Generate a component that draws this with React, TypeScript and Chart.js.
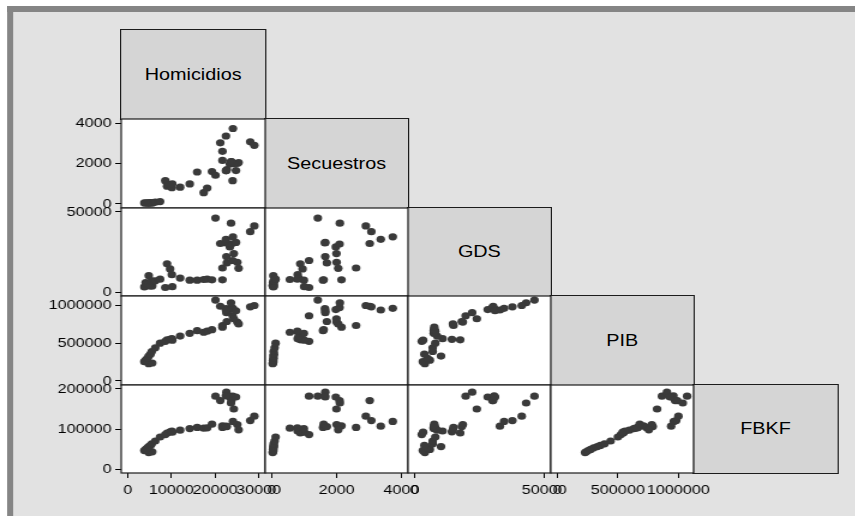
import React, { useEffect, useRef } from 'react';
import { Chart, registerables } from 'chart.js';

Chart.register(...registerables);

// ---------------- data ----------------
const variableNames = ['Homicidios', 'Secuestros', 'GDS', 'PIB', 'FBKF'];

const homicidios = [
  4800, 5600, 3800, 4100, 4500, 4800, 5200, 5500, 6300, 7400,
  8600, 9000, 9700, 10100, 10200, 12000, 14200, 15900, 17400, 18200,
  19300, 21700, 21700, 22700, 25100, 25400, 24030, 22600, 23400, 22500,
  24300, 23750, 21200, 22500, 24100, 23660, 28070, 29000, 20100, 24800,
];
const secuestros = [
  30, 40, 50, 40, 60, 50, 70, 60, 90, 120,
  1150, 880, 950, 800, 1000, 830, 990, 1580, 560, 790,
  1600, 2150, 2600, 1700, 2000, 2050, 1150, 1650, 1975, 1640,
  1995, 2090, 3020, 3360, 3730, 2100, 3070, 2900, 1420, 1650,
];
const gds = [
  4000, 3800, 3200, 5900, 5000, 10200, 3800, 7000, 7000, 8000,
  2800, 17600, 14400, 10800, 3300, 8700, 7400, 7400, 7800, 8000,
  7600, 7600, 15000, 18200, 18600, 14800, 19700, 22200, 28200, 30700,
  24000, 30000, 30300, 32900, 34500, 43000, 37700, 41300, 46200, 31000,
];
const pib = [
  229000, 238000, 255000, 275000, 300000, 330000, 355000, 390000, 440000, 500000,
  525000, 545000, 552000, 560000, 540000, 595000, 631000, 666000, 645000, 660000,
  680000, 712000, 735000, 788000, 780000, 756000, 864000, 905000, 946000, 959000,
  824000, 972000, 990000, 940000, 962000, 1036000, 982000, 1000000, 1072000, 930000,
];
const fbkf = [
  41000, 43000, 46000, 49000, 53000, 56000, 59000, 63000, 70000, 80000,
  86000, 90000, 93000, 95000, 92000, 97000, 101000, 104000, 102000, 103000,
  112000, 108000, 104000, 106000, 111000, 98000, 182000, 192000, 180000, 183000,
  150000, 171000, 171000, 107000, 119000, 165000, 121000, 132000, 182000, 180000,
];

const homicidiosTicks = [0, 10000, 20000, 30000];
const secuestrosTicks = [0, 2000, 4000];
const gdsTicks = [0, 50000];
const pibTicks = [0, 500000, 1000000];
const fbkfTicks = [0, 100000, 200000];

const axisMin = [-1500, -200, -2500, -53600, -10000];
const axisMax = [31500, 4200, 52500, 1125600, 210000];

const series = [homicidios, secuestros, gds, pib, fbkf];
const tickSets = [homicidiosTicks, secuestrosTicks, gdsTicks, pibTicks, fbkfTicks];

// ---------------- layout ----------------
const SX = 1.2; // horizontal stretch of the whole figure
const X0 = 121.7 / SX;
const CW = 143.12 / SX;
const Y0 = 30.3;
const RH = 88.6;
const E = 22;
const AXW = 80;
const AXH = 34;
const FONT = '"Liberation Sans", Arial, Helvetica, sans-serif';

const colL = (c: number) => Math.round(X0 + c * CW);
const rowT = (r: number) => Math.round(Y0 + r * RH);

const panelPlugin = {
  id: 'panelFrame',
  beforeDraw(chart: any) {
    const { ctx, chartArea: a } = chart;
    ctx.save();
    ctx.fillStyle = '#ffffff';
    ctx.fillRect(a.left, a.top, a.right - a.left, a.bottom - a.top);
    ctx.restore();
  },
  afterDraw(chart: any) {
    const { ctx, chartArea: a } = chart;
    ctx.save();
    ctx.strokeStyle = '#1c1c1c';
    ctx.lineWidth = 1.2;
    ctx.strokeRect(a.left, a.top, a.right - a.left, a.bottom - a.top);
    ctx.restore();
  },
};

function axisScale(idx: number, show: boolean, horizontal: boolean) {
  return {
    type: 'linear',
    display: show,
    position: horizontal ? 'bottom' : 'left',
    min: axisMin[idx],
    max: axisMax[idx],
    afterBuildTicks: (s: any) => {
      s.ticks = tickSets[idx].map((v) => ({ value: v }));
    },
    afterFit: (s: any) => {
      if (!show) {
        if (horizontal) s.height = 0;
        else s.width = 0;
        return;
      }
      if (horizontal) s.height = AXH;
      else s.width = AXW;
    },
    grid: {
      display: true,
      drawOnChartArea: false,
      drawTicks: true,
      tickLength: 5,
      color: '#000',
      lineWidth: 1,
    },
    border: { display: false },
    ticks: {
      autoSkip: false,
      maxRotation: 0,
      minRotation: 0,
      padding: horizontal ? 4 : 3,
      color: '#000',
      font: { family: FONT, size: 13.5 },
      callback: (v: any) => String(v),
    },
  };
}

function Panel({ r, c }: { r: number; c: number }) {
  const ref = useRef<HTMLCanvasElement>(null);
  const hasY = c === 0;
  const hasX = r === 4;
  const L = colL(c);
  const R = colL(c + 1);
  const T = rowT(r);
  const B = rowT(r + 1);
  const left = L - E - (hasY ? AXW : 0);
  const top = T - E;
  const width = R - L + 2 * E + (hasY ? AXW : 0);
  const height = B - T + 2 * E + (hasX ? AXH : 0);

  useEffect(() => {
    if (!ref.current) return;
    const xs = series[c];
    const ys = series[r];
    const chart = new Chart(ref.current, {
      type: 'scatter',
      data: {
        datasets: [
          {
            data: xs.map((x, i) => ({ x, y: ys[i] })),
            pointRadius: 3.6,
            pointHoverRadius: 3.6,
            backgroundColor: '#3a3a3a',
            borderColor: '#3a3a3a',
            borderWidth: 0,
          },
        ],
      },
      options: {
        responsive: false,
        animation: false,
        devicePixelRatio: 1,
        events: [],
        layout: { padding: { left: E, right: E, top: E, bottom: E } },
        plugins: { legend: { display: false }, tooltip: { enabled: false } },
        scales: {
          x: axisScale(c, hasX, true),
          y: axisScale(r, hasY, false),
        },
      } as any,
      plugins: [panelPlugin],
    });
    return () => chart.destroy();
  }, []);

  return (
    <canvas
      ref={ref}
      width={width}
      height={height}
      style={{ position: 'absolute', left, top, width, height }}
    />
  );
}

export default function App() {
  const panels: React.ReactNode[] = [];
  for (let r = 1; r < 5; r++) {
    for (let c = 0; c < r; c++) {
      panels.push(<Panel key={`${r}-${c}`} r={r} c={c} />);
    }
  }
  const diag = variableNames.map((name, k) => {
    const L = colL(k);
    const R = colL(k + 1);
    const T = rowT(k);
    const B = rowT(k + 1);
    return (
      <div
        key={name}
        style={{
          position: 'absolute',
          left: L - 0.6,
          top: T - 0.6,
          width: R - L + 1.2,
          height: B - T + 1.2,
          boxSizing: 'border-box',
          border: '1.2px solid #1c1c1c',
          background: '#d5d5d5',
          display: 'flex',
          alignItems: 'center',
          justifyContent: 'center',
          fontFamily: FONT,
          fontSize: 16.5,
          color: '#000',
        }}
      >
        {name}
      </div>
    );
  });

  return (
    <div
      style={{
        position: 'fixed',
        left: 0,
        top: 0,
        width: 855 / SX,
        height: 516,
        transform: `scaleX(${SX})`,
        transformOrigin: '0 0',
        overflow: 'hidden',
        background: '#ffffff',
      }}
    >
      <div
        style={{
          position: 'absolute',
          left: 7 / SX,
          top: 6,
          right: 0,
          bottom: 0,
          boxSizing: 'border-box',
          background: '#e2e2e2',
          borderTop: '6px solid #858585',
          borderLeft: `${7 / SX}px solid #858585`,
        }}
      />
      {diag}
      {panels}
    </div>
  );
}
